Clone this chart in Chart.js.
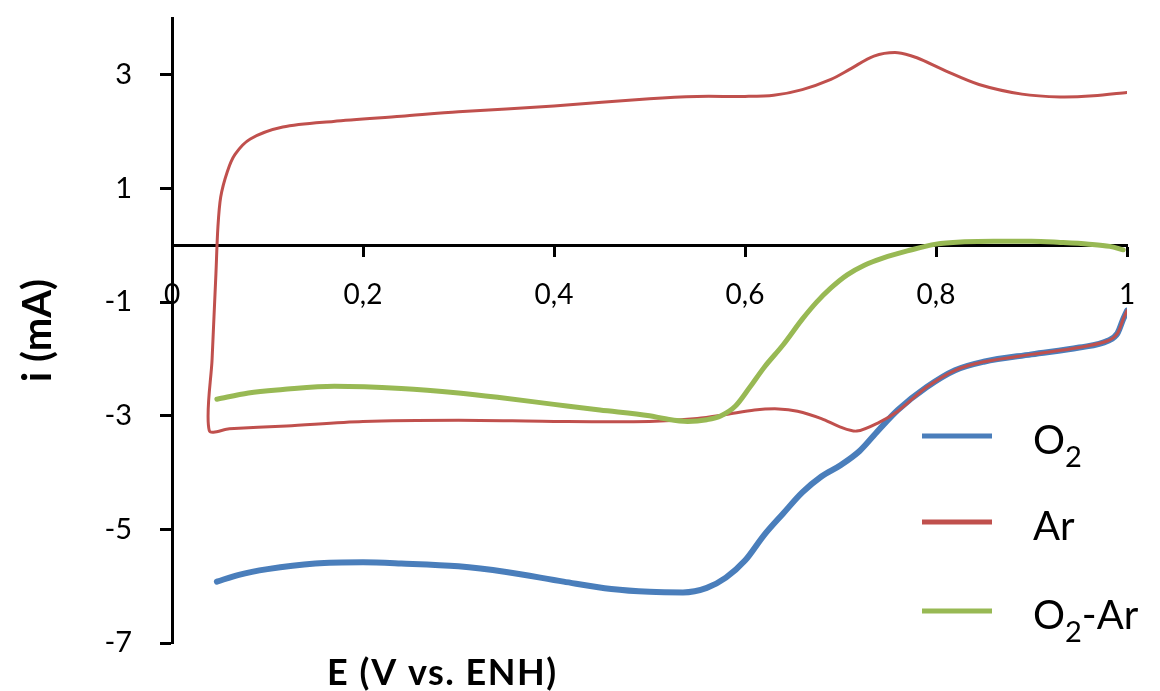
<script src="https://cdn.jsdelivr.net/npm/chart.js"></script>
<style>
    body {
        margin: 0;
        padding: 0;
        background-color: #ffffff;
    }
    .container {
        width: 1160px;
        height: 691px;
        position: relative;
    }
</style>

<div class="container">
    <canvas id="cv"></canvas>
</div>

<script>
    // Series names (digits are drawn as subscripts in the legend)
    const seriesNames = ['O2', 'Ar', 'O2-Ar'];

    // O2 curve (E in V, i in mA)
    const o2E = [0.047, 0.07, 0.1, 0.15, 0.2, 0.24, 0.3, 0.35, 0.41, 0.46, 0.5, 0.535, 0.56, 0.58, 0.6, 0.62, 0.64, 0.66, 0.68, 0.7, 0.72, 0.74, 0.76, 0.79, 0.82, 0.85, 0.9, 0.95, 0.98, 0.99, 0.996, 1.0];
    const o2I = [-5.92, -5.8, -5.7, -5.6, -5.58, -5.6, -5.65, -5.75, -5.92, -6.05, -6.1, -6.11, -6.03, -5.85, -5.55, -5.1, -4.72, -4.35, -4.07, -3.87, -3.62, -3.25, -2.9, -2.5, -2.2, -2.05, -1.92, -1.8, -1.68, -1.55, -1.3, -1.15];

    // Ar cyclic voltammogram: cathodic sweep from 1 V down, then anodic sweep back up
    const arE = [1.0, 0.996, 0.99, 0.98, 0.95, 0.9, 0.85, 0.82, 0.79, 0.76, 0.74, 0.717, 0.7, 0.68, 0.655, 0.635, 0.61, 0.58, 0.55, 0.5, 0.4, 0.3, 0.2, 0.12, 0.06, 0.039,
                 0.042, 0.046, 0.048, 0.051, 0.058, 0.066, 0.082, 0.116, 0.169, 0.24, 0.3, 0.4, 0.5, 0.55, 0.6, 0.63, 0.66, 0.69, 0.71, 0.735, 0.76, 0.78, 0.81, 0.845, 0.89, 0.93, 0.965, 1.0];
    const arI = [-1.15, -1.3, -1.55, -1.68, -1.8, -1.92, -2.05, -2.2, -2.5, -2.92, -3.12, -3.27, -3.2, -3.05, -2.92, -2.88, -2.9, -2.98, -3.05, -3.1, -3.1, -3.08, -3.1, -3.18, -3.23, -3.26,
                 -2.0, -0.5, 0.3, 0.85, 1.3, 1.6, 1.87, 2.08, 2.18, 2.27, 2.35, 2.45, 2.58, 2.62, 2.62, 2.64, 2.74, 2.92, 3.1, 3.33, 3.39, 3.3, 3.07, 2.83, 2.66, 2.61, 2.63, 2.69];

    // O2 - Ar difference curve
    const diffE = [0.047, 0.08, 0.116, 0.17, 0.24, 0.3, 0.343, 0.4, 0.448, 0.5, 0.515, 0.54, 0.56, 0.575, 0.59, 0.605, 0.62, 0.64, 0.66, 0.675, 0.69, 0.707, 0.725, 0.745, 0.77, 0.8, 0.83, 0.86, 0.9, 0.93, 0.96, 0.982, 0.996];
    const diffI = [-2.71, -2.6, -2.54, -2.48, -2.52, -2.6, -2.68, -2.8, -2.9, -3.0, -3.05, -3.1, -3.07, -3.0, -2.83, -2.5, -2.15, -1.75, -1.3, -1.0, -0.75, -0.52, -0.35, -0.22, -0.1, 0.02, 0.06, 0.07, 0.07, 0.05, 0.02, -0.02, -0.08];

    // Axis ticks and labels
    const xTicks = [0, 0.2, 0.4, 0.6, 0.8, 1];
    const xTickLabels = ['0', '0,2', '0,4', '0,6', '0,8', '1'];
    const yTicks = [-7, -5, -3, -1, 1, 3];
    const yTickLabels = ['-7', '-5', '-3', '-1', '1', '3'];
    const xTitle = 'E (V vs. ENH)';
    const yTitle = 'i (mA)';

    const colors = ['#4A7EBB', '#C0504D', '#98B954'];
    const widths = [6, 3, 5];
    const modes = ['monotone', 'default', 'monotone'];

    const toPoints = (xs, ys) => xs.map((x, i) => ({ x: x, y: ys[i] }));

    // Draw text with digits as subscripts
    function drawSubText(ctx, text, x, y, size) {
        const parts = text.split(/(\d)/).filter(p => p !== '');
        parts.forEach(p => {
            if (/^\d$/.test(p)) {
                ctx.font = `${Math.round(size * 0.72)}px Lato`;
                ctx.fillText(p, x, y + 13);
            } else {
                ctx.font = `${size}px Lato`;
                ctx.fillText(p, x, y);
            }
            x += ctx.measureText(p).width;
        });
    }

    const overlay = {
        id: 'overlay',
        afterDraw(chart) {
            const ctx = chart.ctx;
            ctx.save();
            ctx.fillStyle = '#000';
            ctx.textBaseline = 'alphabetic';
            ctx.textAlign = 'left';
            ctx.font = 'bold 36px Lato';
            ctx.letterSpacing = '1.5px';
            ctx.fillText(xTitle, 327, 685);
            ctx.letterSpacing = '0px';

            // legend inside the plot, lower right
            const legendY = [436, 522, 611];
            seriesNames.forEach((name, i) => {
                ctx.strokeStyle = colors[i];
                ctx.lineWidth = 5;
                ctx.beginPath();
                ctx.moveTo(922, legendY[i]);
                ctx.lineTo(992, legendY[i]);
                ctx.stroke();
                drawSubText(ctx, name, 1033, legendY[i] + 18, 40);
            });
            ctx.restore();
        }
    };

    const canvas = document.getElementById('cv');
    canvas.width = 1160;
    canvas.height = 691;

    new Chart(canvas.getContext('2d'), {
        type: 'scatter',
        data: {
            datasets: [
                { label: seriesNames[0], data: toPoints(o2E, o2I), order: 3 },
                { label: seriesNames[1], data: toPoints(arE, arI), order: 2 },
                { label: seriesNames[2], data: toPoints(diffE, diffI), order: 1 }
            ].map((d, i) => Object.assign(d, {
                showLine: true,
                borderColor: colors[i],
                backgroundColor: colors[i],
                borderWidth: widths[i],
                pointRadius: 0,
                tension: 0.3,
                cubicInterpolationMode: modes[i],
                borderCapStyle: 'round',
                borderJoinStyle: 'round'
            }))
        },
        options: {
            responsive: false,
            animation: false,
            layout: { padding: { top: 18, bottom: 48, right: 33, left: 0 } },
            plugins: {
                legend: { display: false },
                tooltip: { enabled: false }
            },
            scales: {
                x: {
                    type: 'linear',
                    min: 0,
                    max: 1,
                    position: { y: 0 },
                    afterBuildTicks: s => { s.ticks = xTicks.map(v => ({ value: v })); },
                    afterFit: s => { s.height = 0; },
                    grid: { drawOnChartArea: false, tickLength: 10, tickWidth: 3, tickColor: '#000' },
                    border: { color: '#000', width: 3 },
                    ticks: {
                        color: '#000',
                        font: { family: 'Lato', size: 28 },
                        padding: 23,
                        maxRotation: 0,
                        autoSkip: false,
                        callback: (v, i) => xTickLabels[i]
                    }
                },
                y: {
                    type: 'linear',
                    min: -7,
                    max: 4,
                    position: 'left',
                    afterBuildTicks: s => { s.ticks = yTicks.map(v => ({ value: v })); },
                    afterFit: s => { s.width = 172; s.paddingTop = 0; s.paddingBottom = 0; },
                    grid: { drawOnChartArea: false, tickLength: 12, tickWidth: 3, tickColor: '#000' },
                    border: { color: '#000', width: 3 },
                    ticks: {
                        color: '#000',
                        font: { family: 'Lato', size: 29 },
                        padding: 28,
                        callback: (v, i) => yTickLabels[i]
                    },
                    title: {
                        display: true,
                        text: yTitle,
                        color: '#000',
                        font: { family: 'Lato', size: 40, weight: 'bold' },
                        padding: { top: 14, bottom: 0 }
                    }
                }
            }
        },
        plugins: [overlay]
    });
</script>
